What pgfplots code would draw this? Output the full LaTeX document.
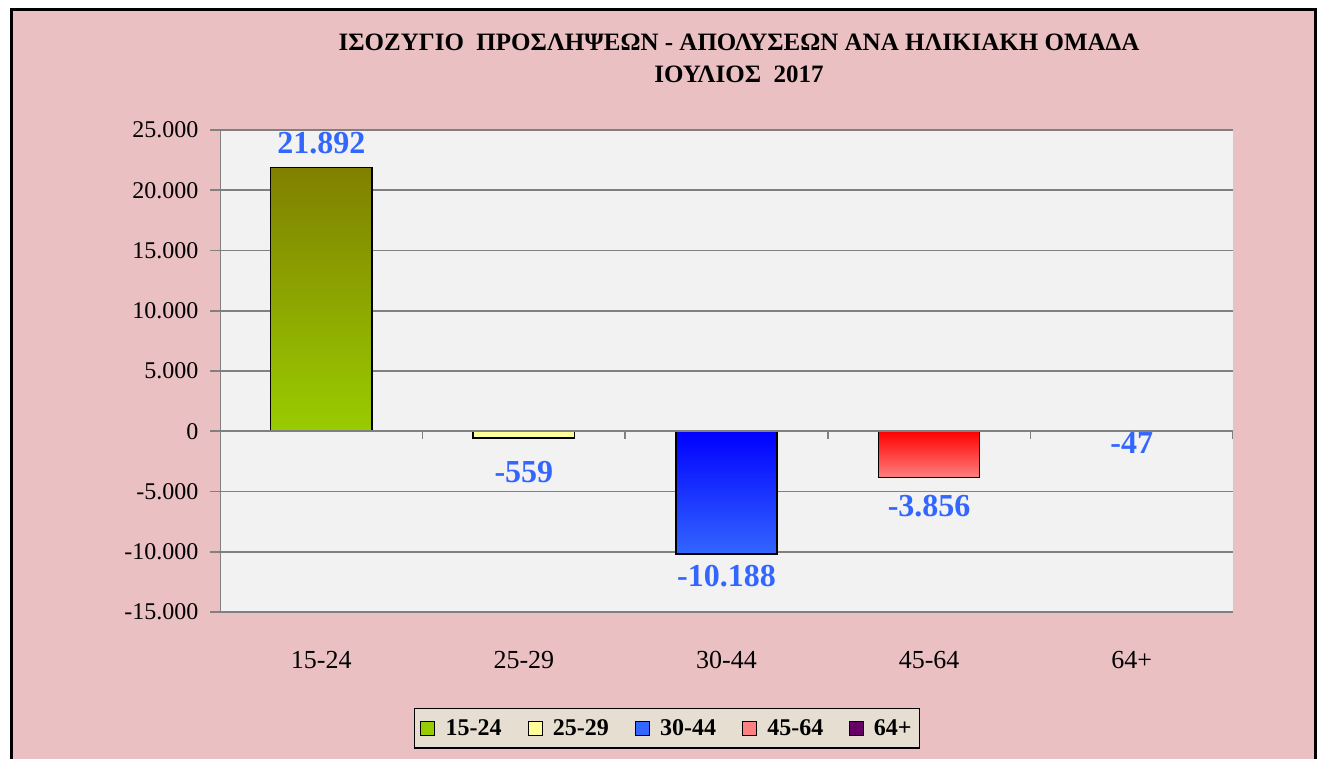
\documentclass[border=0pt]{standalone}
\usepackage{fontspec}
\setmainfont{Liberation Serif}
\usepackage{pgfplots}
\pgfplotsset{compat=1.18}
\definecolor{bgpink}{RGB}{234,192,194}
\definecolor{plotgray}{RGB}{242,242,242}
\definecolor{gridgray}{RGB}{128,128,128}
\definecolor{lblblue}{RGB}{51,102,255}
\definecolor{oliveT}{RGB}{128,128,0}
\definecolor{oliveB}{RGB}{153,204,0}
\definecolor{paleyel}{RGB}{255,255,153}
\definecolor{blueT}{RGB}{0,0,255}
\definecolor{blueB}{RGB}{51,102,255}
\definecolor{redT}{RGB}{255,0,0}
\definecolor{redB}{RGB}{255,128,128}
\definecolor{plum}{RGB}{102,0,102}
\definecolor{legbg}{RGB}{230,222,209}

% flat legend square, no gradient
\newcommand{\legsq}[1]{\draw[black,line width=1pt,fill=#1,top color=#1,bottom color=#1] (0pt,-7pt) rectangle (14pt,7pt); \path (22pt,0pt);}

\begin{document}
\begin{tikzpicture}[x=1pt,y=1pt]
\useasboundingbox (0,0) rectangle (1322,758);
\fill[white] (0,0) rectangle (1322,758);
\filldraw[fill=bgpink, draw=black, line width=3pt] (11,-10) rectangle (1315,748);
\node[font=\bfseries\fontsize{25}{28}\selectfont] at (739,716)
  {ΙΣΟΖΥΓΙΟ\ \ ΠΡΟΣΛΗΨΕΩΝ - ΑΠΟΛΥΣΕΩΝ ΑΝΑ ΗΛΙΚΙΑΚΗ ΟΜΑΔΑ};
\node[font=\bfseries\fontsize{25}{28}\selectfont] at (739,684) {ΙΟΥΛΙΟΣ\ \ 2017};

\begin{axis}[
  at={(220pt,146pt)}, anchor=south west,
  scale only axis, width=1013pt, height=482pt,
  xmin=-0.5, xmax=4.5, ymin=-15000, ymax=25000,
  ytick={-15000,-10000,...,25000},
  xtick={0,...,4},
  xticklabels={15-24,25-29,30-44,45-64,64+},
  scaled y ticks=false,
  axis background/.style={fill=plotgray},
  axis line style={draw=none},
  ytick pos=left,
  tick align=outside,
  major tick length=10pt,
  ytick style={draw=gridgray, line width=1.6pt},
  xtick style={draw=none},
  ymajorgrids,
  grid style={draw=gridgray, line width=1.6pt},
  yticklabel style={font=\fontsize{24}{26}\selectfont, xshift=-8pt},
  xticklabel style={font=\fontsize{26}{28}\selectfont, yshift=-26pt},
  /pgf/number format/1000 sep={.},
  /pgf/number format/assume math mode=true,
  ybar,
  nodes near coords,
  nodes near coords style={font=\bfseries\fontsize{32}{34}\selectfont, text=lblblue},
  legend columns=5,
  legend style={at={(0.4413,-0.2407)}, anchor=center, fill=legbg, draw=black,
    line width=1.5pt, font=\bfseries\fontsize{24}{26}\selectfont,
    inner xsep=6pt, inner ysep=9pt,
    /tikz/every even column/.append style={column sep=24pt}},
]
\addplot[ybar, bar width=0.5, bar shift=0pt, draw=black, line width=1.5pt,
  top color=oliveT, bottom color=oliveB,
  nodes near coords style={yshift=9pt},
  legend image code/.code={\legsq{oliveB}}]
  coordinates {(0,21892)};
\addlegendentry{15-24}
\addplot[ybar, bar width=0.5, bar shift=0pt, draw=black, line width=1.5pt, fill=paleyel,
  nodes near coords style={yshift=-19pt},
  legend image code/.code={\legsq{paleyel}}]
  coordinates {(1,-559)};
\addlegendentry{25-29}
\addplot[ybar, bar width=0.5, bar shift=0pt, draw=black, line width=1.5pt,
  top color=blueT, bottom color=blueB,
  nodes near coords style={yshift=-7pt},
  legend image code/.code={\legsq{blueB}}]
  coordinates {(2,-10188)};
\addlegendentry{30-44}
\addplot[ybar, bar width=0.5, bar shift=0pt, draw=black, line width=1.5pt,
  top color=redT, bottom color=redB,
  nodes near coords style={yshift=-13pt},
  legend image code/.code={\legsq{redB}}]
  coordinates {(3,-3856)};
\addlegendentry{45-64}
\addplot[ybar, bar width=0.5, bar shift=0pt, draw=none, fill=plum,
  nodes near coords style={yshift=3pt},
  legend image code/.code={\legsq{plum}}]
  coordinates {(4,-47)};
\addlegendentry{64+}
\draw[gridgray, line width=1.6pt] (rel axis cs:0,0) -- (rel axis cs:0,1);
\draw[gridgray, line width=1.6pt] (axis cs:-0.5,0) -- (axis cs:4.5,0);
\pgfplotsinvokeforeach{0.5,1.5,2.5,3.5,4.5}{
  \draw[gridgray, line width=1.6pt] (axis cs:#1,0) -- ++(0pt,-8pt);
}
\end{axis}
\end{tikzpicture}
\end{document}
